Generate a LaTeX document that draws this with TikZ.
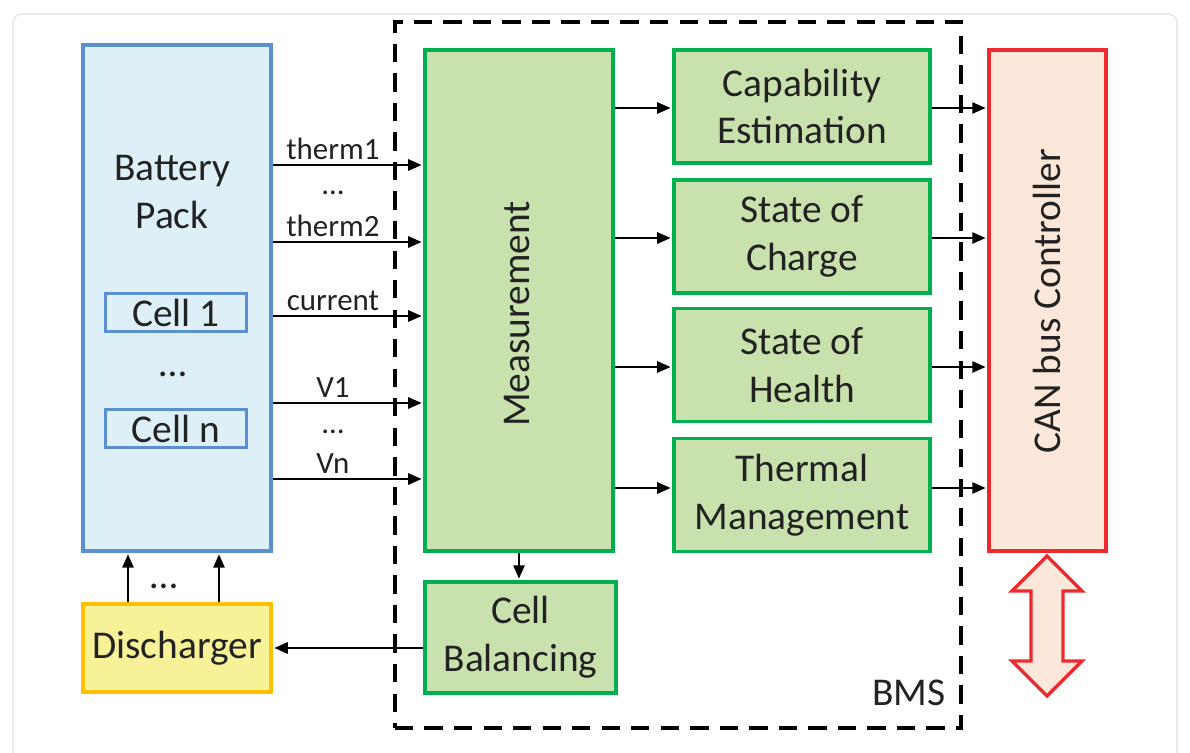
\documentclass[tikz,border=0pt]{standalone}
\usepackage{fontspec}
\setmainfont{Carlito}
\usepackage{tikz}
\usetikzlibrary{calc,arrows.meta}
\definecolor{packblue}{HTML}{5B8FD0}
\definecolor{packfill}{HTML}{DEF0F7}
\definecolor{bmsgreen}{HTML}{00B050}
\definecolor{bmsfill}{HTML}{C9E2AD}
\definecolor{dischyellow}{HTML}{FFC000}
\definecolor{dischfill}{HTML}{F7F197}
\definecolor{canred}{HTML}{EE2A2E}
\definecolor{canfill}{HTML}{FCE8DA}
\definecolor{inktext}{HTML}{222222}
\def\bigtext{\fontsize{28pt}{34pt}\selectfont}
\def\smalltext{\fontsize{22pt}{26pt}\selectfont}
\def\drawsig{\draw[line width=1.4pt,-{Triangle[length=9.5pt,width=8pt]},shorten >=1pt]}
\def\bmsnode{\node[draw=bmsgreen,fill=bmsfill,line width=2.8pt,align=center,inner sep=0pt]}
\def\cellnode{\node[draw=packblue,fill=packfill,line width=2.6pt,minimum width=3.525cm,minimum height=0.95cm,inner sep=0pt]}

\begin{document}
\begin{tikzpicture}[x=0.025cm,y=-0.025cm,text=inktext,font=\bigtext]
\useasboundingbox (0,0) rectangle (1190,752);
\draw[black!12, line width=0.8pt, rounded corners=6pt] (13,14) rectangle (1177,780); % page frame

% ---------- BMS boundary
\node[draw=black,dashed,dash pattern=on 13pt off 8pt,line width=2.8pt,minimum width=14.15cm,minimum height=17.65cm] (bms) at (678,375) {};
\node (bmslabel) at (909,693) {BMS};

% ---------- Battery pack and its cells
\node[draw=packblue,fill=packfill,line width=2.6pt,minimum width=4.7cm,minimum height=12.65cm] (pack) at (177,298) {};
\node[align=center] (packlabel) at (172,192) {Battery\\Pack};
\cellnode (cell1) at (176,312.5) {Cell 1};
\node[anchor=base] (celldots) at (173,376) {…};
\cellnode (celln) at (176,428.5) {Cell n};

% ---------- Discharger
\node[draw=dischyellow,fill=dischfill,line width=2.8pt,minimum width=4.7cm,minimum height=2.2cm] (disch) at (177,648) {Discharger};

% ---------- Measurement and balancing
\bmsnode[minimum width=4.7cm,minimum height=12.525cm] (meas) at (519,300.5) {};
\node[rotate=90] (measlabel) at (517,314) {Measurement};
\bmsnode[minimum width=4.775cm,minimum height=2.775cm] (bal) at (520.5,637.5) {Cell\\Balancing};

% ---------- Estimators
\bmsnode[minimum width=6.4cm,minimum height=2.825cm] (cap) at (802,106.5) {Capability\\Estimation};
\bmsnode[minimum width=6.4cm,minimum height=2.825cm] (soc) at (802,236.5) {State of\\Charge};
\bmsnode[minimum width=6.4cm,minimum height=2.825cm] (soh) at (802,365) {State of\\Health};
\bmsnode[minimum width=6.4cm,minimum height=2.825cm] (therm) at (802,495) {Thermal\\Management};

% ---------- CAN bus controller
\node[draw=canred,fill=canfill,line width=2.8pt,minimum width=2.925cm,minimum height=12.525cm] (can) at (1047.5,300.5) {};
\node[rotate=90] (canlabel) at (1047,301) {CAN bus Controller};

% the bus itself, a block arrow under the controller
\coordinate (bus) at (1047,626);
\draw[draw=canred,fill=canfill,line width=2.4pt,line join=miter]
  ($ (bus) + (0,-70) $) -- ($ (bus) + (35,-35) $) -- ($ (bus) + (16,-35) $)
  -- ($ (bus) + (16,35) $) -- ($ (bus) + (35,35) $) -- ($ (bus) + (0,70) $)
  -- ($ (bus) + (-35,35) $) -- ($ (bus) + (-16,35) $) -- ($ (bus) + (-16,-35) $)
  -- ($ (bus) + (-35,-35) $) -- cycle;

% ---------- Sensor lines into the measurement block
\coordinate (therm1_y) at (0,165);
\coordinate (therm2_y) at (0,242);
\coordinate (current_y) at (0,316);
\coordinate (v1_y) at (0,403);
\coordinate (vn_y) at (0,479);
\drawsig (pack.east |- therm1_y) to node[pos=0.4,above,inner sep=3pt,font=\smalltext] (therm1) {therm1} (meas.west |- therm1_y);
\node[anchor=base,font=\smalltext] (thermdots) at (333,194) {…};
\drawsig (pack.east |- therm2_y) to node[pos=0.4,above,inner sep=3pt,font=\smalltext] (therm2) {therm2} (meas.west |- therm2_y);
\drawsig (pack.east |- current_y) to node[pos=0.4,above,inner sep=3pt,font=\smalltext] (current) {current} (meas.west |- current_y);
\drawsig (pack.east |- v1_y) to node[pos=0.4,above,inner sep=3pt,font=\smalltext] (v1) {V1} (meas.west |- v1_y);
\node[anchor=base,font=\smalltext] (vdots) at (333,433) {…};
\drawsig (pack.east |- vn_y) to node[pos=0.4,above,inner sep=3pt,font=\smalltext] (vn) {Vn} (meas.west |- vn_y);

% ---------- Measurement to estimators, estimators to CAN
\coordinate (cap_y) at (0,108);
\coordinate (soc_y) at (0,238);
\coordinate (soh_y) at (0,367);
\coordinate (therm_y) at (0,488);
\drawsig (meas.east |- cap_y) to (cap.west |- cap_y);
\drawsig (meas.east |- soc_y) to (soc.west |- soc_y);
\drawsig (meas.east |- soh_y) to (soh.west |- soh_y);
\drawsig (meas.east |- therm_y) to (therm.west |- therm_y);
\drawsig (cap.east |- cap_y) to (can.west |- cap_y);
\drawsig (soc.east |- soc_y) to (can.west |- soc_y);
\drawsig (soh.east |- soh_y) to (can.west |- soh_y);
\drawsig (therm.east |- therm_y) to (can.west |- therm_y);

% ---------- Balancing loop back to the pack
\coordinate (bal_x) at (519,0);
\drawsig (meas.south -| bal_x) to (bal.north -| bal_x);
\coordinate (disch_y) at (0,648);
\drawsig (bal.west |- disch_y) to (disch.east |- disch_y);
\coordinate (left_up) at (128,0);
\coordinate (right_up) at (219,0);
\drawsig (disch.north -| left_up) to (pack.south -| left_up);
\drawsig (disch.north -| right_up) to (pack.south -| right_up);
\node[anchor=base] (dischdots) at (164,588) {…};
\end{tikzpicture}
\end{document}
